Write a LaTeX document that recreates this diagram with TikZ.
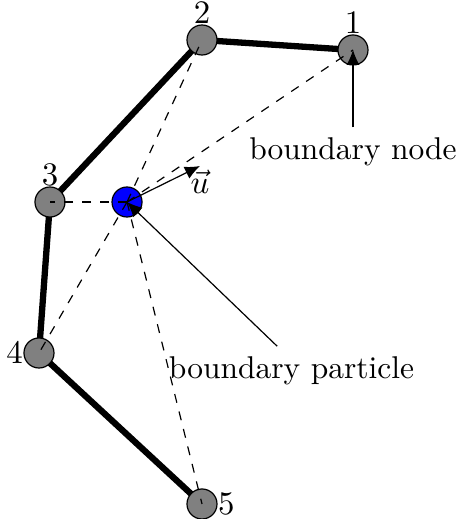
\documentclass[tikz,border=0pt]{standalone}
\usetikzlibrary{arrows.meta, backgrounds}

\tikzset{
  bnode/.style={circle, draw, fill=gray, minimum size=0.352cm, inner sep=0pt},
  bparticle/.style={circle, draw, fill=blue, minimum size=0.352cm, inner sep=0pt},
  every label/.style={inner sep=0pt},
  wall/.style={line width=2.1pt, line join=round},
  tip/.style={-{Latex[length=5pt, width=4.4pt]}},
}

\begin{document}
\begin{tikzpicture}[font=\fontsize{10.5pt}{12.6pt}\selectfont]
  \useasboundingbox (0,0) rectangle (5.38,6.084);

  % boundary nodes
  \node[bnode, label=above:$1$] (n1) at (4.138, 5.498) {};
  \node[bnode, label=above:$2$] (n2) at (2.368, 5.615) {};
  \node[bnode, label=above:$3$] (n3) at (0.586, 3.716) {};
  \node[bnode, label=left:$4$]  (n4) at (0.457, 1.946) {};
  \node[bnode, label=right:$5$] (n5) at (2.368, 0.176) {};

  \node[bparticle] (p) at (1.489, 3.716) {};

  \begin{scope}[on background layer]
    \draw[wall] (n1.center) -- (n2.center) -- (n3.center) -- (n4.center) -- (n5.center);
  \end{scope}

  \foreach \i in {1,...,5}
    \draw[dashed] (p.center) -- (n\i.center);

  % normal vector
  \coordinate (utip) at (2.344, 4.138);
  \draw[tip] (p.center) -- (utip) node[below, inner sep=1pt] {$\vec{u}$};

  \node (bnlabel) at (4.138, 4.30) {boundary node};
  \draw[tip] (bnlabel.north) -- (n1.center);

  \node (bplabel) at (3.417, 1.735) {boundary particle};
  \draw[tip] (bplabel.120) -- (p.center);
\end{tikzpicture}
\end{document}
